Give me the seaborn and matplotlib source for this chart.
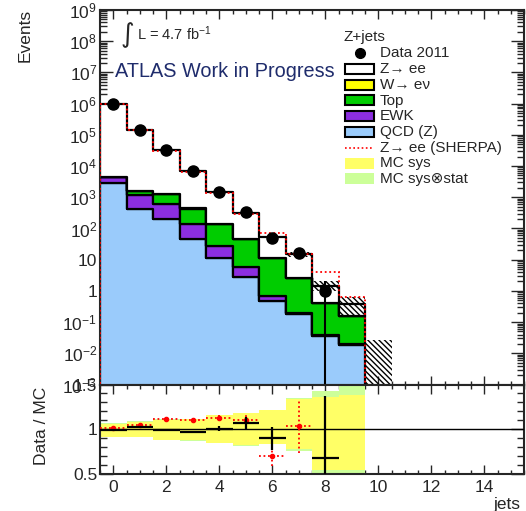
import numpy as np
import pandas as pd
import matplotlib
matplotlib.use("Agg")
import matplotlib.pyplot as plt
import seaborn as sns
from matplotlib.ticker import FixedLocator, FuncFormatter, MultipleLocator, LogLocator, NullFormatter
from matplotlib.patches import Rectangle
from matplotlib.lines import Line2D
from matplotlib import font_manager

# ---------------- data ----------------
bin_centers = [0, 1, 2, 3, 4, 5, 6, 7, 8, 9]
bin_edges = [-0.5, 0.5, 1.5, 2.5, 3.5, 4.5, 5.5, 6.5, 7.5, 8.5, 9.5]
process_names = ["Z\u2192 ee", "W\u2192 e\u03bd", "Top", "EWK", "QCD (Z)"]
process_colors = ["#ffffff", "#ffff00", "#00cc00", "#8c2ee0", "#9acbfb"]
z_ee = [9.85e5, 1.404e5, 3.17e4, 6660, 1347, 259, 43.8, 12.6, 1.08, 0.22]
w_enu = [40, 12, 4, 1.5, 0.5, 0.15, 0.04, 0.01, 0.003, 0.001]
top = [80, 400, 660, 300, 114, 40, 10.5, 2.4, 0.36, 0.136]
ewk = [1400, 760, 380, 89, 17, 3.0, 0.20, 0.02, 0.003, 0.001]
qcd = [2900, 436, 208, 46, 11, 2.7, 0.49, 0.18, 0.037, 0.019]
sherpa = [9.7e5, 1.38e5, 2.94e4, 6300, 1330, 296, 72, 15.2, 4.0, 0.64]

data_jets = [0, 1, 2, 3, 4, 5, 6, 7, 8]
data_events = [9.8e5, 1.45e5, 3.26e4, 6900, 1500, 326, 50, 15.8, 1.0]
data_err = [990, 380, 180, 83, 39, 18, 7, 4, 1]

# hatched MC uncertainty band (main panel)
band_centers = [0, 1, 2, 3, 4, 5, 6, 7, 8, 9, 10]
band_lo = [9.8e5, 1.40e5, 3.25e4, 6950, 1460, 295, 52, 12.5, 1.0, 0.17, 1e-4]
band_hi = [1.0e6, 1.44e5, 3.35e4, 7250, 1520, 315, 59, 18, 2.0, 0.66, 0.027]

# ratio panel
ratio_jets = [0, 1, 2, 3, 4, 5, 6, 8]
ratio_data = [0.99, 1.02, 0.99, 0.97, 1.005, 1.07, 0.90, 0.675]
ratio_data_err = [0.003, 0.005, 0.008, 0.015, 0.03, 0.07, 0.13, 0.7]
ratio_sherpa_jets = [0, 1, 2, 3, 4, 5, 6, 7]
ratio_sherpa = [1.01, 1.05, 1.11, 1.10, 1.125, 1.10, 0.70, 1.04]
ratio_sherpa_err = [0.005, 0.008, 0.012, 0.02, 0.03, 0.06, 0.11, 0.3]
sys_lo = [0.915, 0.91, 0.885, 0.875, 0.85, 0.82, 0.84, 0.78, 0.545, 0.55]
sys_hi = [1.063, 1.085, 1.107, 1.115, 1.16, 1.18, 1.21, 1.34, 1.36, 1.38]
tot_lo = [0.913, 0.908, 0.883, 0.873, 0.848, 0.818, 0.838, 0.755, 0.4, 0.4]
tot_hi = [1.065, 1.087, 1.109, 1.117, 1.162, 1.182, 1.212, 1.345, 1.43, 1.6]

x_ticks = [0, 2, 4, 6, 8, 10, 12, 14]

# ---------------- style ----------------
sns.set_style("ticks")
names = {f.name for f in font_manager.fontManager.ttflist}
plt.rcParams["font.family"] = ["Liberation Sans", "DejaVu Sans"]
plt.rcParams["mathtext.fontset"] = "custom"
plt.rcParams["mathtext.rm"] = "Liberation Sans"
plt.rcParams["mathtext.it"] = "Liberation Sans:italic"
plt.rcParams["mathtext.bf"] = "Liberation Sans:bold"
plt.rcParams["hatch.linewidth"] = 1.0
plt.rcParams["axes.linewidth"] = 1.5

W, H = 526, 511
fig = plt.figure(figsize=(W / 100, H / 100), dpi=100)
fig.patch.set_facecolor("white")

def fx(px):
    return px / W

def fy(py):
    return 1 - py / H

ax_left, ax_right = 100, 524
top_y0, top_y1 = 10, 384.5
rat_y1 = 474
ax = fig.add_axes([fx(ax_left), fy(top_y1), fx(ax_right) - fx(ax_left), fy(top_y0) - fy(top_y1)])
ax2 = fig.add_axes([fx(ax_left), fy(rat_y1), fx(ax_right) - fx(ax_left), fy(top_y1) - fy(rat_y1)])

# ---------------- main panel ----------------
ax.set_yscale("log")
df = pd.DataFrame({
    "jets": bin_centers * len(process_names),
    "events": z_ee + w_enu + top + ewk + qcd,
    "process": sum([[n] * len(bin_centers) for n in process_names], []),
})
sns.histplot(data=df, x="jets", weights="events", hue="process", hue_order=process_names,
             palette=dict(zip(process_names, process_colors)), bins=bin_edges,
             multiple="stack", element="step", fill=True, alpha=1,
             edgecolor="black", linewidth=1.6, legend=False, ax=ax, zorder=1)

ax.bar(band_centers, np.array(band_hi) - np.array(band_lo), bottom=band_lo, width=1.0,
       fill=False, hatch="\\" * 6, edgecolor="black", linewidth=0, zorder=2)
ax.stairs(sherpa, bin_edges, baseline=1e-5, color="red", linestyle=(0, (1, 1.5)),
          linewidth=1.3, zorder=3)
ax.errorbar(data_jets, data_events, yerr=data_err, fmt="o", color="black", ms=8,
            elinewidth=1.5, capsize=0, zorder=4)

ax.set_xlim(-0.5, 15.5)
ax.set_ylim(1e-3, 1e9)
ax.set_xlabel("")
ax.set_ylabel("")
ax.yaxis.set_major_locator(LogLocator(base=10, numticks=30))
ax.yaxis.set_minor_locator(LogLocator(base=10, subs=np.arange(2, 10), numticks=30))
ax.yaxis.set_minor_formatter(NullFormatter())

def logfmt(v, pos):
    e = int(round(np.log10(v)))
    if e == 0:
        return "1"
    if e == 1:
        return "10"
    return r"$\mathdefault{10^{%d}}$" % e

ax.yaxis.set_major_formatter(FuncFormatter(logfmt))
ax.xaxis.set_major_locator(FixedLocator(x_ticks))
ax.xaxis.set_minor_locator(MultipleLocator(0.5))
ax.tick_params(axis="x", which="both", labelbottom=False)
ax.tick_params(which="both", direction="in", top=True, right=True, width=1.0)
ax.tick_params(axis="y", which="major", length=9.4, labelsize=12.5, pad=2)
ax.tick_params(axis="y", which="minor", length=4.7)
ax.tick_params(axis="x", which="major", length=6.5)
ax.tick_params(axis="x", which="minor", length=3.2)

# ---------------- ratio panel ----------------
ax2.bar(bin_centers, np.array(tot_hi) - np.array(tot_lo), bottom=tot_lo, width=1.0,
        color="#ccff99", linewidth=0, zorder=1)
ax2.bar(bin_centers, np.array(sys_hi) - np.array(sys_lo), bottom=sys_lo, width=1.0,
        color="#ffff66", linewidth=0, zorder=2)
ax2.axhline(1.0, color="black", linewidth=1.0, zorder=3)
eb = ax2.errorbar(ratio_sherpa_jets, ratio_sherpa, xerr=0.5, yerr=ratio_sherpa_err, fmt="o",
                  color="red", ms=3, elinewidth=1.3, capsize=0, zorder=4)
for lc in eb[2]:
    lc.set_linestyle((0, (1, 1.5)))
ax2.errorbar(ratio_jets, ratio_data, xerr=0.5, yerr=ratio_data_err, fmt="none",
             color="black", elinewidth=1.6, capsize=0, zorder=5)
ax2.set_xlim(-0.5, 15.5)
ax2.set_ylim(0.5, 1.5)
ax2.yaxis.set_major_locator(FixedLocator([0.5, 1.0, 1.5]))
ax2.yaxis.set_major_formatter(FuncFormatter(lambda v, p: "%g" % v))
ax2.yaxis.set_minor_locator(MultipleLocator(0.1))
ax2.xaxis.set_major_locator(FixedLocator(x_ticks))
ax2.xaxis.set_minor_locator(MultipleLocator(0.5))
ax2.tick_params(which="both", direction="in", top=True, right=True, width=1.0, labelsize=12.5)
ax2.tick_params(axis="y", which="major", length=9.4, pad=2)
ax2.tick_params(axis="y", which="minor", length=5)
ax2.tick_params(axis="x", which="major", length=6.5, pad=4)
ax2.tick_params(axis="x", which="minor", length=3.2)

# ---------------- labels ----------------
fig.text(fx(25), fy(9), "Events", rotation=90, ha="center", va="top", fontsize=12.5)
fig.text(fx(41), fy(426), "Data / MC", rotation=90, ha="center", va="center", fontsize=12.5)
fig.text(fx(493), fy(505), "jets", ha="left", va="center", fontsize=12.5)

fig.text(fx(121), fy(35), "\u222b", ha="left", va="center", fontsize=19, family="DejaVu Sans")
fig.text(fx(137), fy(40), r"L = 4.7 fb$^{-1}$", ha="left", va="baseline", fontsize=10.5)
if "Liberation Sans Narrow" in names:
    fig.text(fx(115), fy(71), "ATLAS Work in Progress", ha="left", va="center", fontsize=18,
             family="Liberation Sans Narrow", color="#1f2c6c")
else:
    fig.text(fx(115), fy(71), "ATLAS Work in Progress", ha="left", va="center", fontsize=14.3,
             color="#1f2c6c")

# ---------------- legend (manual) ----------------
fs_leg = 11
fig.text(fx(343), fy(37), "Z+jets", ha="left", va="center", fontsize=fs_leg)
rows = [53, 69, 85, 100.5, 116.5, 132, 148, 163.5, 179]
labels = ["Data 2011"] + process_names + ["Z\u2192 ee (SHERPA)", "MC sys", "MC sys\u2297stat"]
box_x0, box_x1, text_x = 345, 374, 380
for i, (ry, lab) in enumerate(zip(rows, labels)):
    if i == 0:
        fig.add_artist(Line2D([fx(360)], [fy(ry)], marker="o", color="black", ms=7,
                              transform=fig.transFigure))
    elif 1 <= i <= 5:
        fig.add_artist(Rectangle((fx(box_x0), fy(ry + 5)), fx(box_x1) - fx(box_x0), fy(ry - 5) - fy(ry + 5),
                                 facecolor=process_colors[i - 1], edgecolor="black", linewidth=1.5,
                                 transform=fig.transFigure))
    elif i == 6:
        fig.add_artist(Line2D([fx(box_x0), fx(box_x1)], [fy(ry), fy(ry)], color="red",
                              linestyle=(0, (1, 1.5)), linewidth=1.2, transform=fig.transFigure))
    else:
        col = "#ffff66" if i == 7 else "#ccff99"
        fig.add_artist(Rectangle((fx(box_x0), fy(ry + 5.5)), fx(box_x1) - fx(box_x0), fy(ry - 5.5) - fy(ry + 5.5),
                                 facecolor=col, edgecolor="none", linewidth=0,
                                 transform=fig.transFigure))
    fig.text(fx(text_x), fy(ry), lab, ha="left", va="center", fontsize=fs_leg,
             family=["Liberation Sans", "DejaVu Sans"])

fig.savefig("out.png", dpi=100, facecolor="white")
